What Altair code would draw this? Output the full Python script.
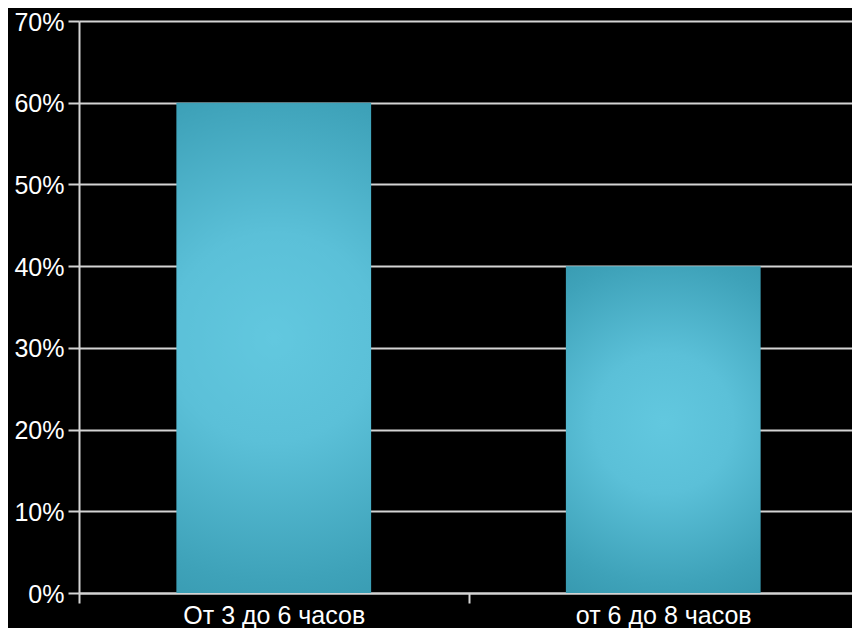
import altair as alt
import pandas as pd

categories = ["От 3 до 6 часов", "от 6 до 8 часов"]
values = [0.60, 0.40]
y_ticks = [0.0, 0.1, 0.2, 0.3, 0.4, 0.5, 0.6, 0.7]

df = pd.DataFrame({"cat": categories, "val": values})

grad = alt.Gradient(
    gradient="radial",
    stops=[
        alt.GradientStop(color="#62c8df", offset=0),
        alt.GradientStop(color="#5bc0d8", offset=0.3),
        alt.GradientStop(color="#3ea2b9", offset=0.7),
        alt.GradientStop(color="#3090a6", offset=1),
    ],
    x1=0.5, y1=0.48, x2=0.5, y2=0.48, r1=0, r2=0.71,
)

line_col = "#d4d4d4"
font = "Liberation Sans"

chart = alt.Chart(df).mark_bar(color=grad, width=alt.RelativeBandSize(0.5)).encode(
    x=alt.X(
        "cat:N", sort=categories, title=None,
        scale=alt.Scale(paddingInner=0, paddingOuter=0),
        axis=alt.Axis(
            labelAngle=0, tickBand="extent", grid=False, labelLimit=0,
            domainColor=line_col, domainWidth=2, tickColor=line_col, tickWidth=2, tickSize=10,
            labelColor="white", labelFontSize=25, labelFont=font, labelPadding=0,
        ),
    ),
    y=alt.Y(
        "val:Q", title=None,
        scale=alt.Scale(domain=[0, 0.7], nice=False),
        axis=alt.Axis(
            format="%", values=y_ticks, grid=True, gridColor=line_col, gridWidth=2,
            domainColor=line_col, domainWidth=2, tickColor=line_col, tickWidth=2, tickSize=11,
            labelColor="white", labelFontSize=25, labelFont=font, labelPadding=4, labelOffset=1,
        ),
    ),
).properties(
    width=779, height=572,
    padding={"left": 71, "top": 13, "right": -6, "bottom": 35},
    autosize="none", background="black",
).configure_view(stroke=None)

chart.save("out.html", embed_options={"renderer": "svg", "actions": False})
